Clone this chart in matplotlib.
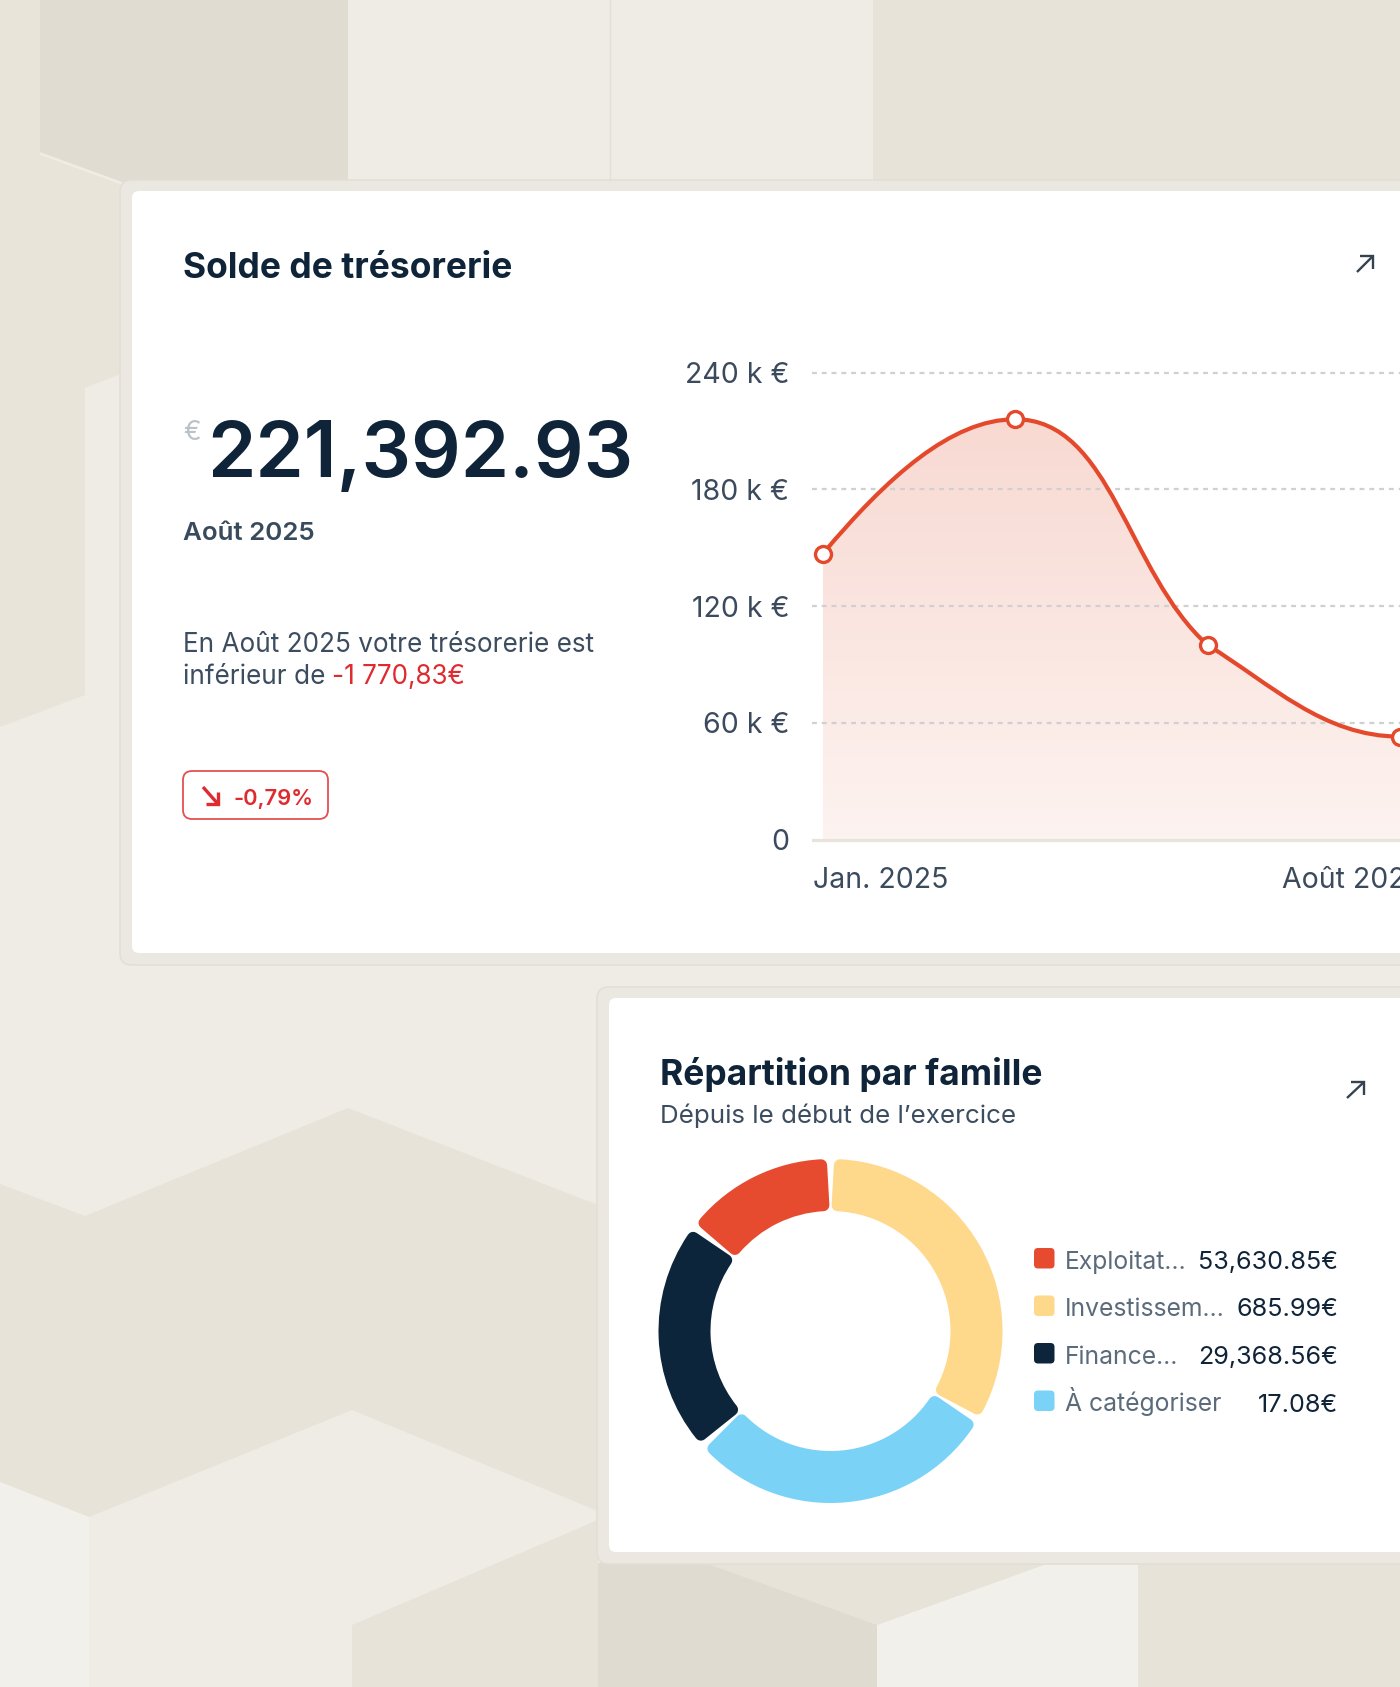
import numpy as np
import matplotlib
matplotlib.use("Agg")
import matplotlib.pyplot as plt
from matplotlib.patches import Polygon, FancyBboxPatch, PathPatch
from matplotlib.path import Path
from matplotlib.colors import LinearSegmentedColormap
import matplotlib.transforms as mtransforms

# ---------------- data ----------------
balance_value = "221,392.93"
balance_month = "Août 2025"
delta_amount = "-1 770,83€"
delta_pct = "-0,79%"

x_pos = [0, 1, 2, 3]
treso_k = [147, 216, 100, 53]               # k€
y_ticks = [0, 60, 120, 180, 240]
y_tick_labels = ["0", "60 k €", "120 k €", "180 k €", "240 k €"]
x_tick_labels = ["Jan. 2025", "Août 2025"]

fam_labels = ["Exploitat…", "Investissem…", "Finance…", "À catégoriser"]
fam_values = ["53,630.85€", "685.99€", "29,368.56€", "17.08€"]
fam_colors = ["#e64b2f", "#fed88b", "#0d253b", "#7ad3f7"]
# share of the ring drawn for each family (legend order)
fam_ring_share = [14.6, 33.6, 22.0, 29.7]
ring_draw_order = [1, 3, 2, 0]   # clockwise from 12 o'clock

# ---------------- style ----------------
W, H = 1400, 1687
NAVY = "#0f2438"
GREY_TXT = "#3c4d5f"
RED_TXT = "#df2a2f"
LINE = "#e4492c"
FONT = ["Inter", "DejaVu Sans"]
plt.rcParams["font.family"] = FONT

fig = plt.figure(figsize=(W / 100, H / 100), dpi=100)
fig.patch.set_facecolor("#efece5")
bg = fig.add_axes([0, 0, 1, 1])
bg.set_xlim(0, W)
bg.set_ylim(H, 0)
bg.axis("off")
renderer = fig.canvas.get_renderer()

# ---------------- background shapes ----------------
polys = [
    ("#e8e4da", [(0, 0), (40, 0), (40, 155), (125, 186), (131, 186), (131, 370),
                 (85, 388), (85, 695), (0, 727)]),
    ("#e0dcd1", [(40, 0), (348, 0), (348, 183), (125, 183), (40, 152)]),
    ("#e7e3d9", [(873, 0), (1400, 0), (1400, 183), (873, 183)]),
    ("#e7e3d9", [(0, 1184), (85, 1216), (348, 1108), (598, 1205), (598, 1511),
                 (352, 1410), (89, 1517), (0, 1482)]),
    ("#f2f0eb", [(0, 1482), (89, 1517), (89, 1687), (0, 1687)]),
    ("#e7e3d9", [(352, 1625), (598, 1520), (598, 1687), (352, 1687)]),
    ("#dfdbd0", [(598, 1563), (1400, 1563), (1400, 1687), (598, 1687)]),
    ("#e7e3d9", [(705, 1563), (1049, 1563), (877, 1625)]),
    ("#f2f0eb", [(877, 1625), (1049, 1563), (1138, 1563), (1138, 1687), (877, 1687)]),
    ("#e7e3d9", [(1138, 1563), (1400, 1563), (1400, 1687), (1138, 1687)]),
]
for col, pts in polys:
    bg.add_patch(Polygon(pts, closed=True, fc=col, ec="none", zorder=1))
bg.plot([610, 610], [0, 183], color="#e4e0d7", lw=1, zorder=1)

# ---------------- cards ----------------
def card(x, y, w, h):
    bg.add_patch(FancyBboxPatch((x - 12, y - 11), w + 24, h + 23,
                                boxstyle="round,pad=0,rounding_size=12",
                                fc="#ebe8e1", ec="#e2dfd6", lw=1.2, zorder=2))
    bg.add_patch(FancyBboxPatch((x, y), w, h, boxstyle="round,pad=0,rounding_size=7",
                                fc="white", ec="none", zorder=3))

card(132, 191, 1400, 762)
card(609, 998, 1400, 554)


def put(x, y, s, width=None, size=16, **kw):
    kw.setdefault("va", "baseline")
    kw.setdefault("zorder", 6)
    t = bg.text(x, y, s, fontsize=size, **kw)
    if width:
        bb = t.get_window_extent(renderer)
        t.set_fontsize(size * width / bb.width)
    return t


def arrow_icon(x0, y0, x1, y1, color, lw, head):
    bg.plot([x0, x1], [y0, y1], color=color, lw=lw, solid_capstyle="butt", zorder=6)
    sx = np.sign(x1 - x0)
    sy = np.sign(y1 - y0)
    bg.plot([x1 - sx * head, x1, x1], [y1, y1, y1 - sy * head], color=color, lw=lw,
            solid_joinstyle="miter", solid_capstyle="butt", zorder=6)

# ---------------- card 1 texts ----------------
put(183, 277.5, "Solde de trésorerie", width=329, weight="bold", color=NAVY)
arrow_icon(1357, 272, 1373, 256, "#34434f", 1.7, 13)
put(183, 440, "€", size=19, color="#b9c1c9")
put(207, 477, balance_value, width=428, weight="semibold", color=NAVY)
put(183, 540, balance_month, width=132, weight="semibold", color="#394a5c")
t1 = put(183, 652, "En Août 2025 votre trésorerie est", width=412, color=GREY_TXT)
fs = t1.get_fontsize()
put(183, 684, "inférieur de ", size=fs, color=GREY_TXT)
put(332.5, 684, delta_amount, size=fs, color=RED_TXT)

bg.add_patch(FancyBboxPatch((183, 771), 145, 48, boxstyle="round,pad=0,rounding_size=9",
                            fc="white", ec="#e4504f", lw=1.3, zorder=5))
arrow_icon(203, 787, 218, 804, RED_TXT, 2.4, 12.5)
put(233.5, 805, delta_pct, width=80, weight="semibold", color=RED_TXT)

# ---------------- line chart ----------------
px_per_k = 1.947
y_zero_px = 839.8
top_val, bot_val = 250, -3
ax_top = y_zero_px - top_val * px_per_k
ax_bot = y_zero_px - bot_val * px_per_k
ax = fig.add_axes([812 / W, 1 - ax_bot / H, (1411 - 812) / W, (ax_bot - ax_top) / H])
ax.set_facecolor("none")
for s in ax.spines.values():
    s.set_visible(False)

xs = np.array(x_pos, float)
ys = np.array(treso_k, float)
n = len(xs)
sec = np.diff(ys) / np.diff(xs)
m_in = np.zeros(n)
m_out = np.zeros(n)
for i in range(1, n - 1):
    if sec[i - 1] * sec[i] > 0:
        m_in[i] = 0.6 * sec[i - 1] + 0.4 * sec[i]
        m_out[i] = 0.2 * sec[i - 1] + 0.8 * sec[i]
m_out[0] = 1.7 * sec[0]
m_in[-1] = 0.0
# bezier handle fractions (start, end) per segment
handles = [(1 / 3, 1 / 3), (0.5, 0.42), (0.33, 0.4)]

verts = [(xs[0], ys[0])]
codes = [Path.MOVETO]
for i in range(n - 1):
    h = xs[i + 1] - xs[i]
    ka, kb = handles[i]
    verts += [(xs[i] + ka * h, ys[i] + m_out[i] * ka * h),
              (xs[i + 1] - kb * h, ys[i + 1] - m_in[i + 1] * kb * h),
              (xs[i + 1], ys[i + 1])]
    codes += [Path.CURVE4] * 3
curve = Path(verts, codes)
fill_path = Path(verts + [(xs[-1], 0), (xs[0], 0), (xs[0], ys[0])],
                 codes + [Path.LINETO, Path.LINETO, Path.CLOSEPOLY])

fill_patch = PathPatch(fill_path, fc="none", ec="none")
ax.add_patch(fill_patch)
grad = np.linspace(0, 1, 256).reshape(-1, 1)
cmap = LinearSegmentedColormap.from_list("g", ["#fdf3f0", "#f8d8d1"])
im = ax.imshow(grad, extent=[-0.1, 3.1, 0, 225], origin="lower", aspect="auto",
               cmap=cmap, zorder=1)
im.set_clip_path(fill_patch)
ax.add_patch(PathPatch(curve, fc="none", ec=LINE, lw=3.0, capstyle="round",
                       joinstyle="round", zorder=3))
ax.plot(xs, ys, "o", ms=11.5, mfc="white", mec=LINE, mew=2.4, zorder=4, clip_on=False)

ax.set_xlim(-0.057, 3.057)
ax.set_ylim(bot_val, top_val)
ax.set_yticks(y_ticks, y_tick_labels)
ax.grid(axis="y", color="#d0d0d0", lw=1.6, linestyle=(0, (2.2, 2.2)), zorder=0)
g0 = ax.get_ygridlines()[0]
g0.set_linestyle("-")
g0.set_color("#e8e4dc")
g0.set_linewidth(2.3)
ax.tick_params(axis="y", length=0, pad=16.5, labelsize=20.5, labelcolor="#3b4b5d")
ax.set_xticks([xs[0], xs[-1]], x_tick_labels)
ax.tick_params(axis="x", length=0, pad=15.5, labelsize=20.5, labelcolor="#3b4b5d")
xl = ax.get_xticklabels()
xl[0].set_ha("left")
xl[0].set_transform(xl[0].get_transform() +
                    mtransforms.ScaledTranslation(-10 / 100, 0, fig.dpi_scale_trans))
xl[1].set_ha("left")
xl[1].set_transform(xl[1].get_transform() +
                    mtransforms.ScaledTranslation(-118 / 100, 0, fig.dpi_scale_trans))

# ---------------- card 2 ----------------
put(660, 1085, "Répartition par famille", width=383, weight="bold", color=NAVY)
put(660, 1123, "Dépuis le début de l\u2019exercice", width=357, color=GREY_TXT)
arrow_icon(1347, 1098, 1364, 1082, "#34434f", 1.7, 13)

cx, cy, R_px = 830.5, 1331, 172
half = 200
dax = fig.add_axes([(cx - half) / W, 1 - (cy + half) / H, 2 * half / W, 2 * half / H])
ring_w = 52 / R_px
shares = [fam_ring_share[i] for i in ring_draw_order]
cols = [fam_colors[i] for i in ring_draw_order]
wedges, _ = dax.pie(shares, colors=cols, startangle=90, counterclock=False, radius=1,
                    wedgeprops=dict(width=ring_w))
L = half / R_px
dax.set_xlim(-L, L)
dax.set_ylim(-L, L)
dax.set_aspect("equal")
rc_px, gap_px, mid_r = 6.0, 4.5, 146.0
rc = rc_px / R_px
dth = np.degrees((gap_px / 2 + rc_px) / mid_r)
for w in wedges:
    w.set_radius(1 - rc)
    w.set_width(ring_w - 2 * rc)
    w.set_theta1(w.theta1 + dth)
    w.set_theta2(w.theta2 - dth)
    w.set_edgecolor(w.get_facecolor())
    w.set_linewidth(2 * rc_px * 0.72)
    w.set_joinstyle("round")

row0, dy = 1269, 47.5
lab_fs = None
val_fs = None
for i, (lab, val, col) in enumerate(zip(fam_labels, fam_values, fam_colors)):
    yb = row0 + i * dy
    bg.add_patch(FancyBboxPatch((1034, yb - 21), 20.5, 20.5,
                                boxstyle="round,pad=0,rounding_size=4",
                                fc=col, ec="none", zorder=6))
    if lab_fs is None:
        tl = put(1065, yb, lab, width=122, color="#5b6b7b")
        lab_fs = tl.get_fontsize()
        tv = put(1338, yb, val, width=140, color=NAVY, ha="right")
        val_fs = tv.get_fontsize()
    else:
        put(1065, yb, lab, size=lab_fs, color="#5b6b7b")
        put(1338, yb, val, size=val_fs, color=NAVY, ha="right")

fig.savefig("out.png", dpi=100)
